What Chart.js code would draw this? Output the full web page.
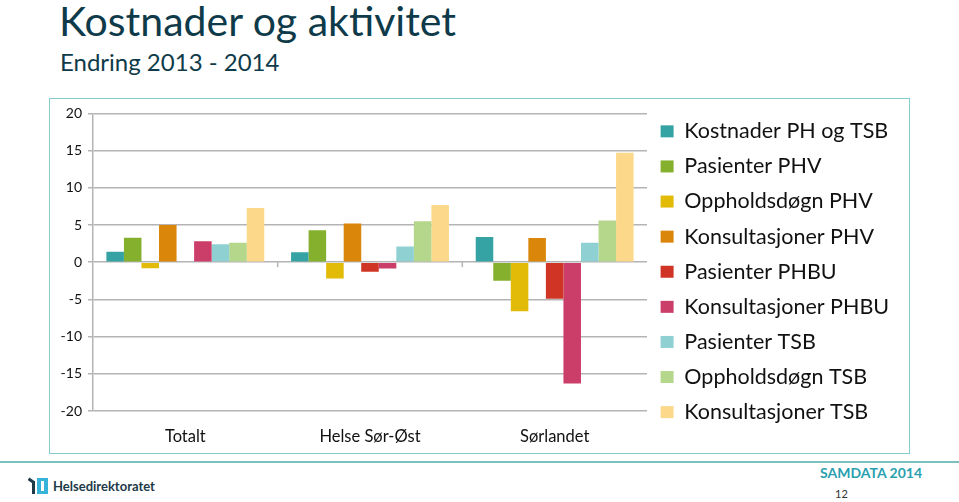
<!DOCTYPE html>
<html>
<head>
<meta charset="utf-8">
<script src="https://cdn.jsdelivr.net/npm/chart.js@4"></script>
<style>
  body { margin: 0; width: 959px; height: 502px; background: #fff; position: relative; overflow: hidden; font-family: Lato, "Open Sans", sans-serif; }
  h1 { position: absolute; left: 59px; top: -4px; margin: 0; font-weight: normal; font-size: 41px; color: #0e3a49; }
  h2 { position: absolute; left: 60px; top: 47px; margin: 0; font-weight: normal; font-size: 24px; color: #0e3a49; }
  #box { position: absolute; left: 49px; top: 98px; width: 859px; height: 354px; border: 1.5px solid #86cbcb; }
  #wrap { position: absolute; left: 50px; top: 99px; width: 859px; height: 354px; }
  #footline { position: absolute; left: 0; top: 461px; width: 959px; height: 2px; background: #7cc0c0; }
  #logo { position: absolute; left: 28px; top: 477px; font-size: 13px; font-weight: bold; color: #1d3a48; }
  #logo .icon { display: inline-block; position: relative; width: 20px; height: 18px; vertical-align: -4px; margin-right: 5px; }
  #logo .icon i { position: absolute; display: block; }
  #samdata { position: absolute; left: 820px; top: 464px; font-size: 14px; font-weight: bold; color: #2a9fb0; }
  #page { position: absolute; left: 835px; top: 487px; font-size: 11px; color: #333; }
</style>
</head>
<body>
<h1>Kostnader og aktivitet</h1>
<h2>Endring 2013 - 2014</h2>
<div id="box"></div>
<div id="wrap"><canvas id="chart"></canvas></div>
<div id="footline"></div>
<div id="logo"><span class="icon"><i style="left:0;top:2px;width:6px;height:3px;background:#1d3a48;transform:rotate(35deg)"></i><i style="left:4px;top:4px;width:3px;height:13px;background:#1d3a48"></i><i style="left:9px;top:1px;width:11px;height:16px;background:#35b3d8"></i><i style="left:13px;top:4px;width:3px;height:10px;background:#fff"></i></span>Helsedirektoratet</div>
<div id="samdata">SAMDATA 2014</div>
<div id="page">12</div>
<script>
// categories and series (change 2013-2014, per cent)
const categories = ["Totalt", "Helse Sør-Øst", "Sørlandet"];
const seriesNames = ["Kostnader PH og TSB", "Pasienter PHV", "Oppholdsdøgn PHV", "Konsultasjoner PHV",
  "Pasienter PHBU", "Konsultasjoner PHBU", "Pasienter TSB", "Oppholdsdøgn TSB", "Konsultasjoner TSB"];
const kostnader = [1.4, 1.35, 3.4];
const pasienterPHV = [3.3, 4.3, -2.5];
const oppholdPHV = [-0.8, -2.2, -6.6];
const konsPHV = [5.0, 5.2, 3.25];
const pasienterPHBU = [-0.1, -1.3, -4.9];
const konsPHBU = [2.8, -0.85, -16.3];
const pasienterTSB = [2.4, 2.1, 2.6];
const oppholdTSB = [2.6, 5.5, 5.6];
const konsTSB = [7.3, 7.7, 14.7];
const yTicks = [-20, -15, -10, -5, 0, 5, 10, 15, 20];

const values = [kostnader, pasienterPHV, oppholdPHV, konsPHV, pasienterPHBU, konsPHBU, pasienterTSB, oppholdTSB, konsTSB];
const colors = ["#35a3a4", "#84b02d", "#e2bb08", "#d9860a", "#cf3424", "#cc3e6a", "#8fd0d3", "#b5d78b", "#fcd98a"];

const LEGEND_WIDTH = 262;

// legend keeps a fixed width so the plot ends where the original one does
const fixedLegend = {
  id: 'fixedLegend',
  afterInit(chart) {
    const lg = chart.legend;
    const fit = lg.fit.bind(lg);
    lg.fit = function () { fit(); this.width = LEGEND_WIDTH; };
  }
};

// small category separator ticks on the zero line, like the excel axis
const zeroTicks = {
  id: 'zeroTicks',
  afterDatasetsDraw(chart) {
    const { ctx, scales: { x, y } } = chart;
    const y0 = y.getPixelForValue(0);
    ctx.save();
    ctx.strokeStyle = '#b4b4b4';
    ctx.lineWidth = 1.5;
    for (let i = 1; i < categories.length; i++) {
      const px = (x.getPixelForValue(i - 1) + x.getPixelForValue(i)) / 2;
      ctx.beginPath();
      ctx.moveTo(px, y0);
      ctx.lineTo(px, y0 + 5);
      ctx.stroke();
    }
    ctx.restore();
  }
};

new Chart(document.getElementById("chart"), {
  type: 'bar',
  data: {
    labels: categories,
    datasets: seriesNames.map((name, i) => ({
      label: name,
      data: values[i],
      backgroundColor: colors[i],
      borderWidth: 0,
      categoryPercentage: 0.855,
      barPercentage: 1.0
    }))
  },
  options: {
    responsive: true,
    maintainAspectRatio: false,
    animation: false,
    layout: { padding: { top: 8, right: 0, left: 0, bottom: 0 } },
    plugins: {
      tooltip: { enabled: false },
      legend: {
        position: 'right',
        align: 'start',
        labels: {
          boxWidth: 13,
          boxHeight: 12,
          padding: 13.6,
          color: '#111',
          font: { family: 'Lato', size: 21.5 }
        }
      }
    },
    scales: {
      x: {
        grid: { display: false },
        border: { display: false },
        ticks: { color: '#111', font: { family: 'Lato', size: 16.5 }, padding: 8 },
        afterFit: (s) => { s.height = 42; }
      },
      y: {
        min: -20,
        max: 20,
        afterBuildTicks: (s) => { s.ticks = yTicks.map(v => ({ value: v })); },
        grid: { color: '#b4b4b4', lineWidth: 1.5, tickLength: 5 },
        border: { color: '#b4b4b4', width: 1.5 },
        ticks: { color: '#111', font: { family: 'Lato', size: 14 }, padding: 6 },
        afterFit: (s) => { s.width = 43; }
      }
    }
  },
  plugins: [fixedLegend, zeroTicks]
});
</script>
</body>
</html>
